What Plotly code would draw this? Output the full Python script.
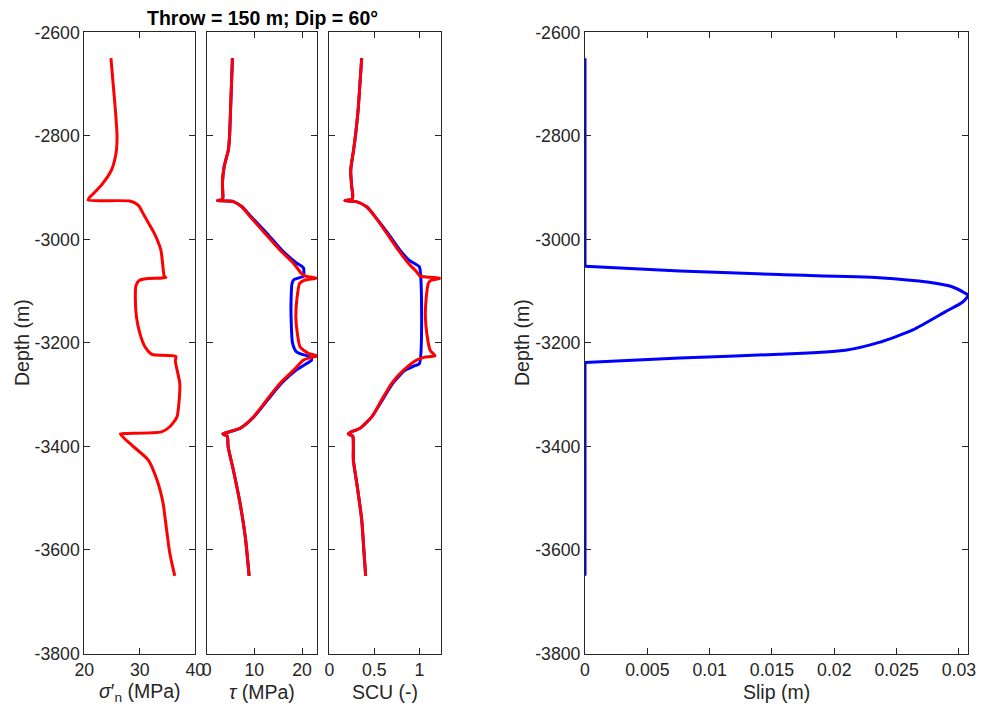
import plotly.graph_objects as go

# ---- data ----------------------------------------------------------------
# effective normal stress (MPa)
depth_sn = [-2650, -2700, -2750, -2800, -2827, -2850, -2866, -2891, -2910, -2918,
            -2924, -2926, -2934, -2956, -2988, -3021, -3046, -3071, -3074, -3076,
            -3080, -3090, -3117, -3150, -3181, -3207, -3221, -3223, -3226, -3235,
            -3278, -3310, -3343, -3362, -3372, -3375, -3376, -3399, -3426, -3465,
            -3510, -3542, -3606, -3650]
sn = [24.8, 25.2, 25.6, 25.9, 25.8, 25.4, 24.9, 23.4, 21.8, 21.0,
      20.7, 28.2, 29.7, 30.9, 32.6, 33.8, 34.1, 34.4, 34.7, 31.0,
      29.8, 29.3, 29.2, 29.4, 30.0, 30.9, 32.0, 32.4, 36.5, 36.4,
      37.2, 37.1, 36.7, 35.4, 33.9, 27.5, 26.5, 28.7, 31.5, 33.1,
      34.2, 34.6, 35.4, 36.3]

# shear stress (MPa): without slip (red) and with slip (blue)
depth_tau_r = [-2650, -2700, -2750, -2800, -2827, -2860, -2891, -2918, -2923, -2925,
               -2927, -2937, -2956, -2988, -3021, -3046, -3066, -3071, -3075, -3079,
               -3085, -3117, -3150, -3181, -3208, -3220, -3225, -3229, -3233, -3253,
               -3278, -3310, -3343, -3365, -3373, -3376, -3380, -3401, -3446, -3510,
               -3575, -3650]
tau_r = [5.4, 5.2, 5.0, 4.8, 4.55, 3.65, 3.3, 3.4, 3.3, 2.25,
         5.6, 7.35, 9.1, 12.2, 15.4, 18.2, 19.9, 20.8, 23.1, 20.5,
         19.5, 18.9, 18.7, 19.0, 19.6, 21.3, 23.2, 21.5, 20.3, 18.2,
         15.4, 12.6, 9.8, 7.0, 4.2, 3.4, 4.3, 4.5, 5.6, 7.0,
         8.1, 8.9]
depth_tau_b = [-2650, -2700, -2750, -2800, -2827, -2860, -2891, -2918, -2923, -2925,
               -2927, -2937, -2956, -2988, -3021, -3046, -3051, -3055, -3071, -3074,
               -3078, -3085, -3117, -3150, -3200, -3217, -3222, -3227, -3233, -3240,
               -3253, -3278, -3310, -3343, -3365, -3373, -3376, -3380, -3401, -3446,
               -3510, -3575, -3650]
tau_b = [5.4, 5.2, 5.0, 4.8, 4.55, 3.65, 3.3, 3.4, 3.3, 2.25,
         5.6, 7.4, 9.3, 12.6, 15.8, 18.9, 19.8, 20.3, 20.3, 19.5,
         18.3, 17.9, 17.7, 17.7, 18.0, 18.8, 20.0, 21.8, 22.0, 21.0,
         18.7, 15.7, 12.8, 9.9, 7.0, 4.2, 3.4, 4.3, 4.5, 5.6,
         7.0, 8.1, 8.9]

# shear capacity utilisation (-)
depth_scu_r = [-2650, -2700, -2750, -2800, -2827, -2866, -2898, -2914, -2922, -2925,
               -2927, -2937, -2956, -2988, -3021, -3046, -3063, -3071, -3075, -3079,
               -3085, -3117, -3150, -3181, -3214, -3222, -3225, -3228, -3233, -3253,
               -3278, -3310, -3343, -3365, -3373, -3376, -3380, -3401, -3426, -3478,
               -3542, -3606, -3650]
scu_r = [0.36, 0.34, 0.32, 0.29, 0.27, 0.238, 0.249, 0.26, 0.255, 0.174,
         0.30, 0.415, 0.508, 0.637, 0.767, 0.878, 0.971, 1.008, 1.237, 1.13,
         1.10, 1.074, 1.067, 1.082, 1.119, 1.16, 1.174, 1.05, 0.971, 0.822,
         0.693, 0.582, 0.471, 0.341, 0.23, 0.211, 0.26, 0.267, 0.267, 0.311,
         0.36, 0.386, 0.404]
depth_scu_b = [-2650, -2700, -2750, -2800, -2827, -2866, -2898, -2914, -2922, -2925,
               -2927, -2937, -2956, -2988, -3021, -3040, -3048, -3053, -3240, -3244,
               -3253, -3278, -3310, -3343, -3365, -3373, -3376, -3380, -3401, -3426,
               -3478, -3542, -3606, -3650]
scu_b = [0.36, 0.34, 0.32, 0.29, 0.27, 0.238, 0.249, 0.26, 0.255, 0.174,
         0.30, 0.415, 0.508, 0.65, 0.785, 0.885, 0.96, 1.0, 1.0, 0.95,
         0.84, 0.705, 0.59, 0.471, 0.341, 0.23, 0.211, 0.26, 0.267, 0.267,
         0.311, 0.36, 0.386, 0.404]

# fault slip (m)
depth_slip = [-2650, -3052, -3061, -3068, -3074, -3083, -3092, -3104, -3108, -3121,
              -3140, -3175, -3199, -3214, -3222, -3229, -3238, -3650]
slip = [0.0, 0.0, 0.0076, 0.0156, 0.0236, 0.0276, 0.0295, 0.0305, 0.03075, 0.0303,
        0.0289, 0.0263, 0.0236, 0.0209, 0.0156, 0.0076, 0.0, 0.0]

depth_ticks = [-3800, -3600, -3400, -3200, -3000, -2800, -2600]
depth_ticktext = ["-3800", "-3600", "-3400", "-3200", "-3000", "-2800", "-2600"]
sn_ticks = [20, 30, 40]
tau_ticks = [0, 10, 20]
scu_ticks = [0, 0.5, 1]
scu_ticktext = ["0", "0.5", "1"]
slip_ticks = [0, 0.005, 0.01, 0.015, 0.02, 0.025, 0.03]
slip_ticktext = ["0", "0.005", "0.01", "0.015", "0.02", "0.025", "0.03"]

title_text = "Throw = 150 m; Dip = 60°"

# ---- layout geometry --------------------------------------------------------
W, H = 982, 715
AX_COLOR = "#262626"
FONT = "Liberation Sans, Arial, Helvetica, sans-serif"
TICK_SIZE = 17.7
LABEL_SIZE = 19.5
LW = 3.0

def px_x(p):
    return p / W

def px_y(p):
    return 1 - p / H

panels_px = [(84.3, 195.3), (206.7, 317.3), (329.3, 440.7), (585.0, 968.3)]
y_dom = [px_y(653.5), px_y(32.3)]

fig = go.Figure()

def line(x, y, color, ax, shape="spline"):
    fig.add_trace(go.Scatter(
        x=x, y=y, mode="lines", xaxis="x" + ax, yaxis="y" + ax,
        line=dict(color=color, width=LW, shape=shape, smoothing=0.6),
        showlegend=False, hoverinfo="skip"))

line(sn, depth_sn, "#FF0000", "")
line(tau_b, depth_tau_b, "#0000FF", "2")
line(tau_r, depth_tau_r, "#FF0000", "2")
line(scu_b, depth_scu_b, "#0000FF", "3")
line(scu_r, depth_scu_r, "#FF0000", "3")
# slip: straight zero stretches above and below the slipping patch, smooth in between
line(slip[:2], depth_slip[:2], "#0000FF", "4", shape="linear")
line(slip[1:-1], depth_slip[1:-1], "#0000FF", "4")
line(slip[-2:], depth_slip[-2:], "#0000FF", "4", shape="linear")

common = dict(
    showline=True, linecolor=AX_COLOR, linewidth=1, mirror="ticks",
    ticks="inside", ticklen=6, tickwidth=1, tickcolor=AX_COLOR,
    showgrid=False, zeroline=False, fixedrange=True, automargin=False,
    tickfont=dict(family=FONT, size=TICK_SIZE, color=AX_COLOR),
)

x_ranges = [[20, 40], [0, max(tau_r)], [0, max(scu_r)], [0, max(slip)]]
x_ticks = [(sn_ticks, [str(v) for v in sn_ticks]),
           (tau_ticks, [str(v) for v in tau_ticks]),
           (scu_ticks, scu_ticktext),
           (slip_ticks, slip_ticktext)]

layout = dict(
    width=W, height=H, autosize=False,
    margin=dict(l=0, r=0, t=0, b=0, pad=0, autoexpand=False),
    paper_bgcolor="white", plot_bgcolor="white",
    font=dict(family=FONT, color=AX_COLOR),
)

for i, ((a, b), rng, (tv, tt)) in enumerate(zip(panels_px, x_ranges, x_ticks)):
    suffix = "" if i == 0 else str(i + 1)
    layout["xaxis" + suffix] = dict(
        common, domain=[px_x(a), px_x(b)], range=rng,
        tickvals=tv, ticktext=tt, anchor="y" + suffix)
    layout["yaxis" + suffix] = dict(
        common, domain=y_dom, range=[-3800, -2600],
        tickvals=depth_ticks, ticktext=depth_ticktext,
        showticklabels=(i in (0, 3)), anchor="x" + suffix)

fig.update_layout(**layout)

label_y = px_y(692)
ann = []
x_labels = ["<i>σ</i>′<sub>n</sub> (MPa)", "<i>τ</i> (MPa)", "SCU (-)", "Slip (m)"]
for (a, b), txt in zip(panels_px, x_labels):
    ann.append(dict(text=txt, x=px_x((a + b) / 2), y=label_y, xref="paper", yref="paper",
                    showarrow=False, xanchor="center", yanchor="middle",
                    font=dict(family=FONT, size=LABEL_SIZE, color=AX_COLOR)))
for xc in (22, 522):
    ann.append(dict(text="Depth (m)", x=px_x(xc), y=px_y(343), xref="paper", yref="paper",
                    showarrow=False, textangle=-90, xanchor="center", yanchor="middle",
                    font=dict(family=FONT, size=LABEL_SIZE, color=AX_COLOR)))
ann.append(dict(text="<b>" + title_text + "</b>", x=px_x(262.5), y=px_y(18),
                xref="paper", yref="paper", showarrow=False,
                xanchor="center", yanchor="middle",
                font=dict(family=FONT, size=LABEL_SIZE, color="#000000")))
fig.update_layout(annotations=ann)

# page without body margin so the figure fills the window exactly
fig.write_html(
    "out.html",
    config={"responsive": False, "displayModeBar": False},
    post_script="document.body.style.margin='0';document.body.style.overflow='hidden';",
)
